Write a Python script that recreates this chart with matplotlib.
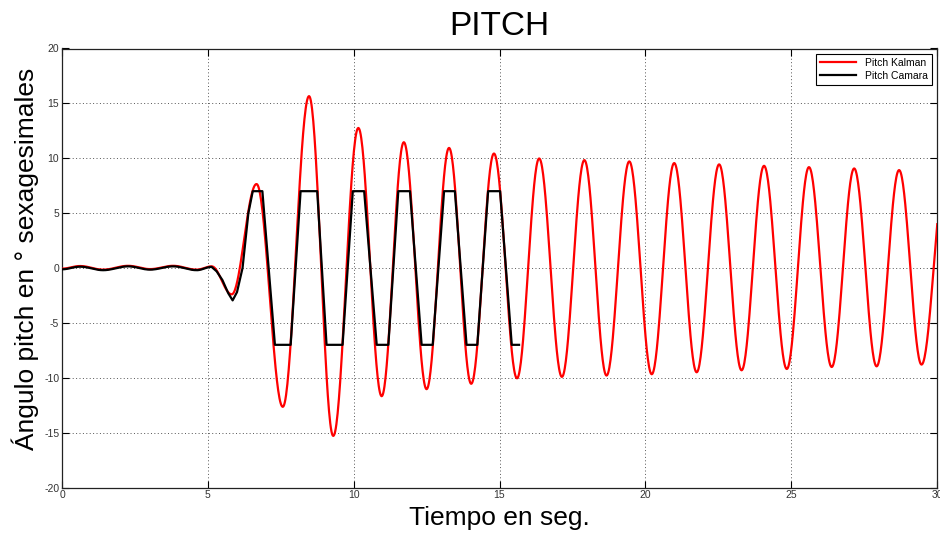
import numpy as np
import matplotlib
matplotlib.use("Agg")
import matplotlib.pyplot as plt

plt.rcParams['font.family'] = ['Liberation Sans', 'DejaVu Sans']
plt.rcParams['axes.unicode_minus'] = False

# Pitch Kalman: quiet start (small wiggles) then turning points of the oscillation
kalman_t = [0.00, 0.62, 1.41, 2.27, 3.02, 3.81, 4.62, 5.13, 5.82, 6.67, 7.57,
            8.47, 9.30, 10.16, 10.96, 11.72, 12.50, 13.27, 14.03, 14.81, 15.60,
            16.36, 17.14, 17.91, 18.67, 19.45, 20.22, 20.99, 21.76, 22.53, 23.30,
            24.07, 24.85, 25.61, 26.39, 27.16, 27.93, 28.70, 29.47, 30.30]
kalman_v = [-0.06, 0.18, -0.15, 0.20, -0.10, 0.20, -0.15, 0.15, -2.40, 7.65, -12.65,
            15.66, -15.30, 12.76, -11.68, 11.46, -11.04, 10.94, -10.55, 10.43, -10.05,
            9.98, -9.92, 9.83, -9.80, 9.71, -9.68, 9.56, -9.50, 9.44, -9.32,
            9.31, -9.20, 9.19, -9.02, 9.07, -8.96, 8.92, -8.80, 8.80]

# Pitch Camara: vertices of the camera trace (saturated at +/-7)
camara_t = [0.00, 0.62, 1.41, 2.27, 3.02, 3.81, 4.62, 5.13, 5.30, 5.50, 5.70, 5.85,
            6.00, 6.19, 6.39, 6.54, 6.87, 7.30, 7.84, 8.18, 8.75, 9.07, 9.62, 9.97,
            10.36, 10.79, 11.19, 11.53, 11.93, 12.33, 12.71, 13.10, 13.47, 13.87,
            14.24, 14.61, 15.02, 15.42, 15.67]
camara_v = [-0.12, 0.12, -0.20, 0.15, -0.15, 0.15, -0.20, 0.10, -0.30, -1.10, -2.30, -2.95,
            -2.20, 0.00, 5.00, 7.00, 7.00, -7.00, -7.00, 7.00, 7.00, -7.00, -7.00, 7.00,
            7.00, -7.00, -7.00, 7.00, 7.00, -7.00, -7.00, 7.00, 7.00, -7.00,
            -7.00, 7.00, 7.00, -7.00, -7.00]

x_ticks = [0, 5, 10, 15, 20, 25, 30]
y_ticks = [-20, -15, -10, -5, 0, 5, 10, 15, 20]


def smooth_path(ts, vs, n=40):
    """Join consecutive turning points with half-cosine arcs."""
    out_t, out_v = [], []
    for i in range(len(ts) - 1):
        s = np.linspace(0, 1, n, endpoint=False)
        w = (1 - np.cos(np.pi * s)) / 2
        out_t.append(ts[i] + (ts[i + 1] - ts[i]) * s)
        out_v.append(vs[i] + (vs[i + 1] - vs[i]) * w)
    out_t.append([ts[-1]])
    out_v.append([vs[-1]])
    return np.concatenate(out_t), np.concatenate(out_v)


fig = plt.figure(figsize=(9.4, 5.33), dpi=100)
ax = fig.add_axes([62 / 940, 45.5 / 533, 875 / 940, 439 / 533])

kt, kv = smooth_path(kalman_t, kalman_v)
ax.plot(kt, kv, color='#ff0000', lw=1.6, label='Pitch Kalman', zorder=3)

# camera trace: smooth drift at rest, straight segments once it moves
split = camara_t.index(5.13)
ct0, cv0 = smooth_path(camara_t[:split + 1], camara_v[:split + 1], n=20)
ct = np.concatenate([ct0, camara_t[split + 1:]])
cv = np.concatenate([cv0, camara_v[split + 1:]])
ax.plot(ct, cv, color='black', lw=1.6, label='Pitch Camara', zorder=4)

ax.set_xlim(0, 30)
ax.set_ylim(-20, 20)
ax.set_xticks(x_ticks)
ax.set_yticks(y_ticks)
ax.tick_params(direction='in', length=5, width=0.8, top=True, right=True,
               labelsize=7.5, labelcolor='#333333', pad=2)
ax.grid(True, linestyle=(0, (1, 2.5)), color='#555555', lw=0.7)
for sp in ax.spines.values():
    sp.set_linewidth(0.9)
    sp.set_color('#222222')

ax.set_title('PITCH', fontsize=24, pad=10)
ax.set_xlabel('Tiempo en seg.', fontsize=19, labelpad=4)
ax.set_ylabel('Ángulo pitch en ° sexagesimales', fontsize=19)
ax.yaxis.set_label_coords(-0.026, 0.52)

leg = ax.legend(loc='upper right', fontsize=7.5, fancybox=False, framealpha=1,
                edgecolor='black', handlelength=3.5, borderaxespad=0.5,
                borderpad=0.4, labelspacing=0.3)
leg.get_frame().set_linewidth(0.8)

fig.savefig('out.png', dpi=100)
